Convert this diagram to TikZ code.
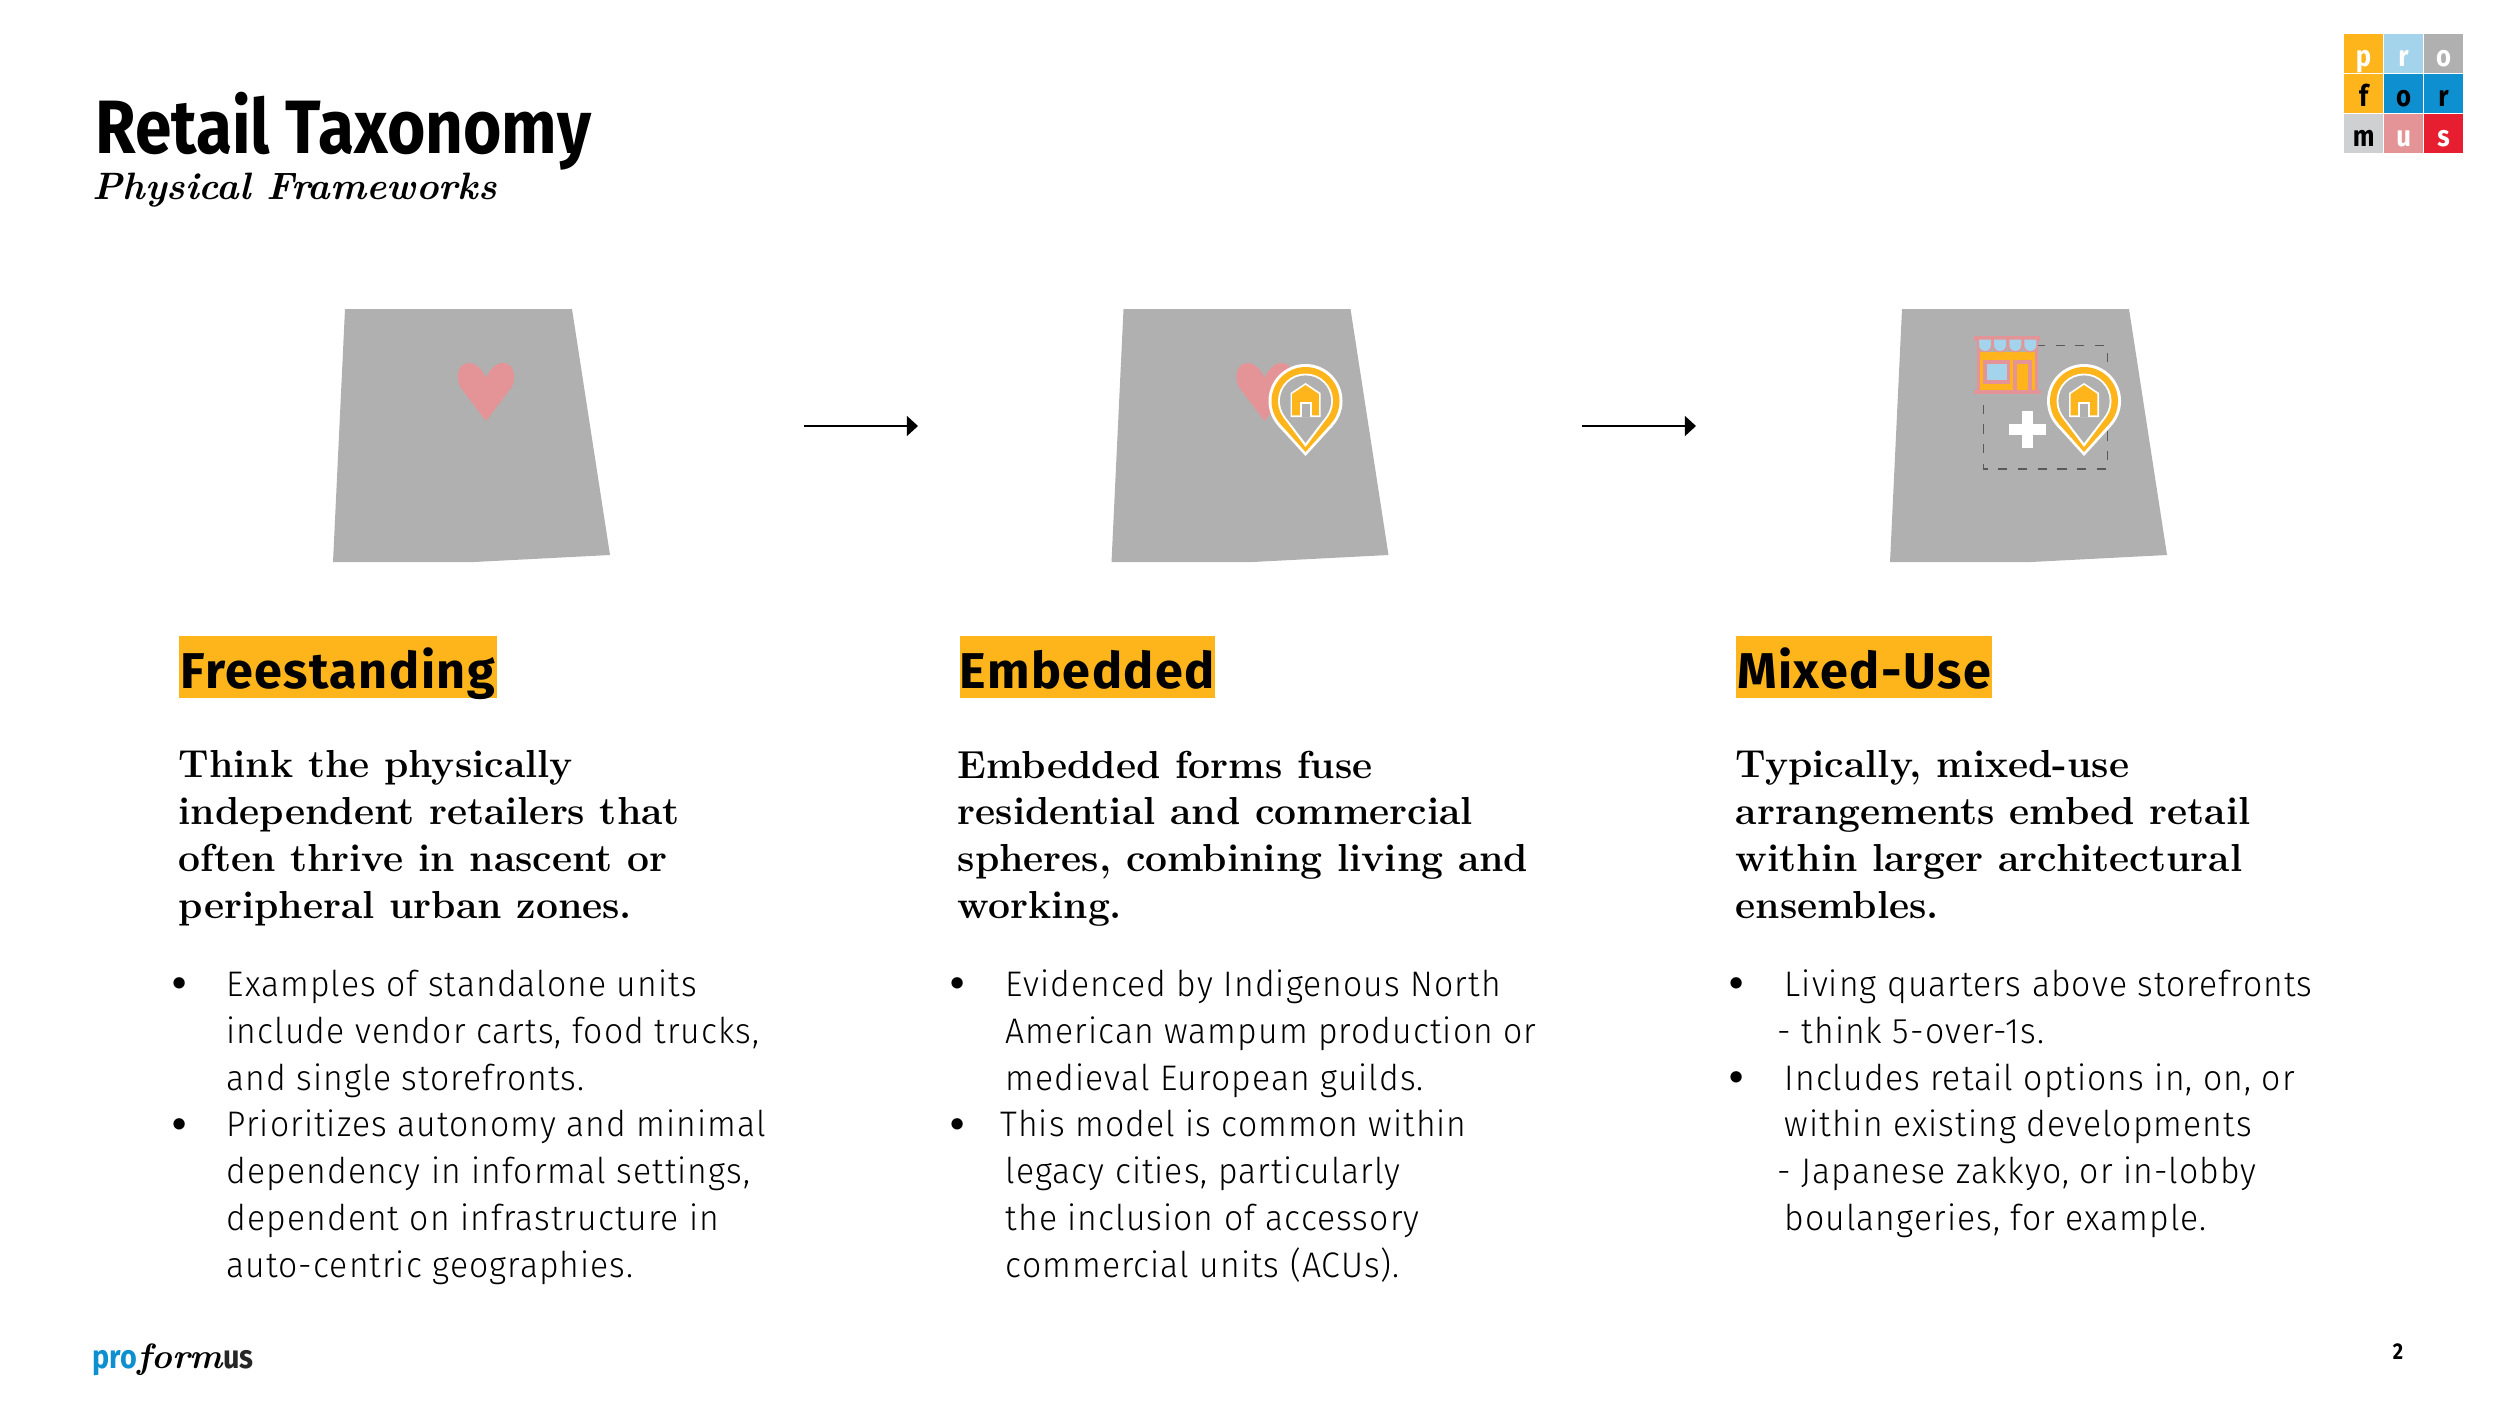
\documentclass[tikz,border=0pt]{standalone}
\usepackage{fontspec}
\usepackage{tikz}
\usetikzlibrary{arrows.meta,calc}
\newfontfamily\dinbold{Fira Sans}[UprightFont=* Bold, FakeStretch=0.87]
\newfontfamily\dinhead{Fira Sans}[UprightFont=* Bold, LetterSpace=3]
\newfontfamily\dinlight{Fira Sans Light}[LetterSpace=3, FakeStretch=0.95]
\definecolor{gold}{RGB}{253,181,27}
\definecolor{lot}{RGB}{176,176,176}
\definecolor{blush}{RGB}{228,148,150}
\definecolor{sky}{RGB}{163,212,236}
\definecolor{ocean}{RGB}{14,143,208}
\definecolor{crimson}{RGB}{230,30,48}
\definecolor{silver}{RGB}{207,208,210}
\newcommand{\droplet}[3]{%
  \pgfmathsetmacro{\dropang}{asin(#1/#2)}
  \fill[#3] (0,0) circle[radius=#1];
  \fill[#3] (0,#2) -- (\dropang:#1) -- (180-\dropang:#1) -- cycle;
}
\tikzset{
  head/.style={anchor=base, fill=gold, inner sep=0pt, text=black, text height=0.52cm, text depth=0.1cm, font=\dinhead\fontsize{14.3}{16}\selectfont},
  lead/.style={anchor=north west, align=left, inner sep=0pt, font=\bfseries\fontsize{11.1}{13.35}\selectfont},
  body/.style={anchor=north west, align=left, inner sep=0pt, font=\dinlight\fontsize{10.1}{13.3}\selectfont},
  dot/.style={anchor=center, inner sep=0pt, font=\fontsize{12}{13}\selectfont},
  cell/.style={anchor=center, minimum size=0.392cm, inner sep=0pt, text height=0.3cm, text depth=0.05cm, font=\dinbold\fontsize{8.4}{9}\selectfont},
  flow/.style={-{Triangle[length=3.2pt, width=5.7pt, inset=0pt]}, line width=0.6pt},
  lotshape/.pic={
    \fill[lot] (345,309) -- (572,309) -- (610,555) -- (474,562) -- (333,562) -- cycle;
  },
  heart/.pic={
    \fill[blush] (0,0) -- (-25,-33) .. controls (-30,-40) and (-30,-58) .. (-17,-58)
      .. controls (-9,-58) and (-3,-50) .. (0,-43)
      .. controls (3,-50) and (9,-58) .. (17,-58)
      .. controls (30,-58) and (30,-40) .. (25,-33) -- cycle;
  },
  pin/.pic={
    \droplet{37}{55}{white}
    \droplet{34}{51}{gold}
    \droplet{27.5}{46}{white}
    \droplet{25.6}{42}{lot}
    \fill[white] (0,-18) -- (15,-8) -- (15,16) -- (-15,16) -- (-15,-8) -- cycle;
    \fill[gold] (0,-16) -- (13.3,-7) -- (13.3,14.3) -- (-13.3,14.3) -- (-13.3,-7) -- cycle;
    \fill[white] (-6,16) rectangle (6,0.7);
    \fill[lot] (-4,16) rectangle (4,3);
  },
  store/.pic={
    \fill[blush] (2.3,5) rectangle (64,58);
    \fill[lot] (5.7,5) rectangle (61,16);
    \fill[gold] (5.7,16) rectangle (61,55);
    \fill[blush] (0,0) rectangle (65.7,5);
    \foreach \cx in {10.7,25.7,41,56} {
      \fill[blush] (\cx-7.5,3) -- (\cx+7.5,3) -- (\cx+7.5,9) arc[start angle=0, end angle=180, radius=7.5] -- cycle;
      \fill[sky] (\cx-6,3.5) -- (\cx+6,3.5) -- (\cx+6,9) arc[start angle=0, end angle=180, radius=6] -- cycle;
    }
    \fill[blush] (8.7,24.3) rectangle (35.7,47.7);
    \fill[sky] (13,28.3) rectangle (32.3,44);
    \fill[blush] (39,24.3) rectangle (57.3,55);
    \fill[gold] (42.7,28.3) rectangle (54,54.3);
    \fill[blush] (-0.7,54.3) rectangle (66.7,58.3);
  }
}

\begin{document}
\begin{tikzpicture}[x=0.01cm, y=-0.01cm]
    \useasboundingbox (0,0) rectangle (2500,1406);

    % title
    \node[anchor=base west, inner sep=0pt, font=\dinbold\fontsize{21.5}{24}\selectfont] (title) at (95,153) {Retail Taxonomy};
    \node[anchor=base west, inner sep=0pt, font=\bfseries\itshape\fontsize{10.85}{14}\selectfont] (subtitle) at (92,199) {Physical Frameworks};

    % logo
    \foreach \col/\row/\letter/\bg/\fg in {0/0/p/gold/white, 1/0/r/sky/white, 2/0/o/lot/white,
        0/1/f/gold/black, 1/1/o/ocean/black, 2/1/r/ocean/black,
        0/2/m/silver/black, 1/2/u/blush/white, 2/2/s/crimson/white} {
      \node[cell, fill=\bg, text=\fg] (logo-\col-\row) at (2363.6+40*\col,53.6+40*\row) {\letter};
    }

    % lots
    \pic at (0,0) {lotshape};
    \pic at (778.5,0) {lotshape};
    \pic at (1557,0) {lotshape};
    \pic at (486,421) {heart};
    \pic at (1264.5,421) {heart};
    \pic at (1305.5,401) {pin};
    \draw[black!65, line width=0.4pt, dash pattern=on 2.6pt off 3pt] (1983.7,345.7) rectangle (2107.7,469);
    \pic at (1974.3,336) {store};
    \pic at (2084,401) {pin};
    \fill[white] (2022,410.6) rectangle (2032.6,448);
    \fill[white] (2008.7,424) rectangle (2046,434.6);

    % arrows
    \coordinate (flowa) at (804,426);
    \coordinate (flowb) at (918,426);
    \coordinate (flowc) at (1582,426);
    \coordinate (flowd) at (1696,426);
    \draw[flow] (flowa) -- (flowb);
    \draw[flow] (flowc) -- (flowd);

    % headings
    \node[head, minimum width=3.17cm] (free) at (338,688) {Freestanding};
    \node[head, minimum width=2.52cm] (embed) at (1087.5,688) {Embedded};
    \node[head, minimum width=2.56cm] (mixed) at (1864,688) {Mixed-Use};

    % lead paragraphs
    \node[lead] (freelead) at (178,750) {Think the physically\\independent retailers that\\often thrive in nascent or\\peripheral urban zones.};
    \node[lead] (embedlead) at (957,750) {Embedded forms fuse\\residential and commercial\\spheres, combining living and\\working.};
    \node[lead] (mixedlead) at (1735,750) {Typically, mixed-use\\arrangements embed retail\\within larger architectural\\ensembles.};

    % column one
    \node[dot] (b1) at (180,986) {•};
    \node[dot] (b2) at (180,1127) {•};
    \node[body] (freebody) at (226,969) {Examples of standalone units\\include vendor carts, food trucks,\\and single storefronts.\\Prioritizes autonomy and minimal\\dependency in informal settings,\\dependent on infrastructure in\\auto-centric geographies.};

    % column two
    \node[dot] (b3) at (958,986) {•};
    \node[dot] (b4) at (958,1127) {•};
    \node[body] (embedbody) at (1005,969) {Evidenced by Indigenous North\\American wampum production or\\medieval European guilds.\\\hspace*{-1.5pt}This model is common within\\legacy cities, particularly\\the inclusion of accessory\\commercial units (ACUs).};

    % column three
    \node[dot] (b5) at (1737,986) {•};
    \node[dot] (b6) at (1737,1080) {•};
    \node[body] (mixedbody) at (1784,969) {Living quarters above storefronts\\\hspace*{-2pt}- think 5-over-1s.\\Includes retail options in, on, or\\within existing developments\\\hspace*{-2pt}- Japanese zakkyo, or in-lobby\\boulangeries, for example.};

    % footer
    \node[anchor=base west, inner sep=0pt] (brand) at (92,1368) {\textcolor{ocean}{\dinbold\fontsize{9.4}{11}\selectfont pro}{\bfseries\itshape\fontsize{10}{11}\selectfont form}{\dinbold\fontsize{9.4}{11}\selectfont\color{black!85}us}};
    \node[anchor=center, inner sep=0pt, font=\dinbold\fontsize{6.5}{8}\selectfont] (page) at (2398,1352) {2};
\end{tikzpicture}
\end{document}
